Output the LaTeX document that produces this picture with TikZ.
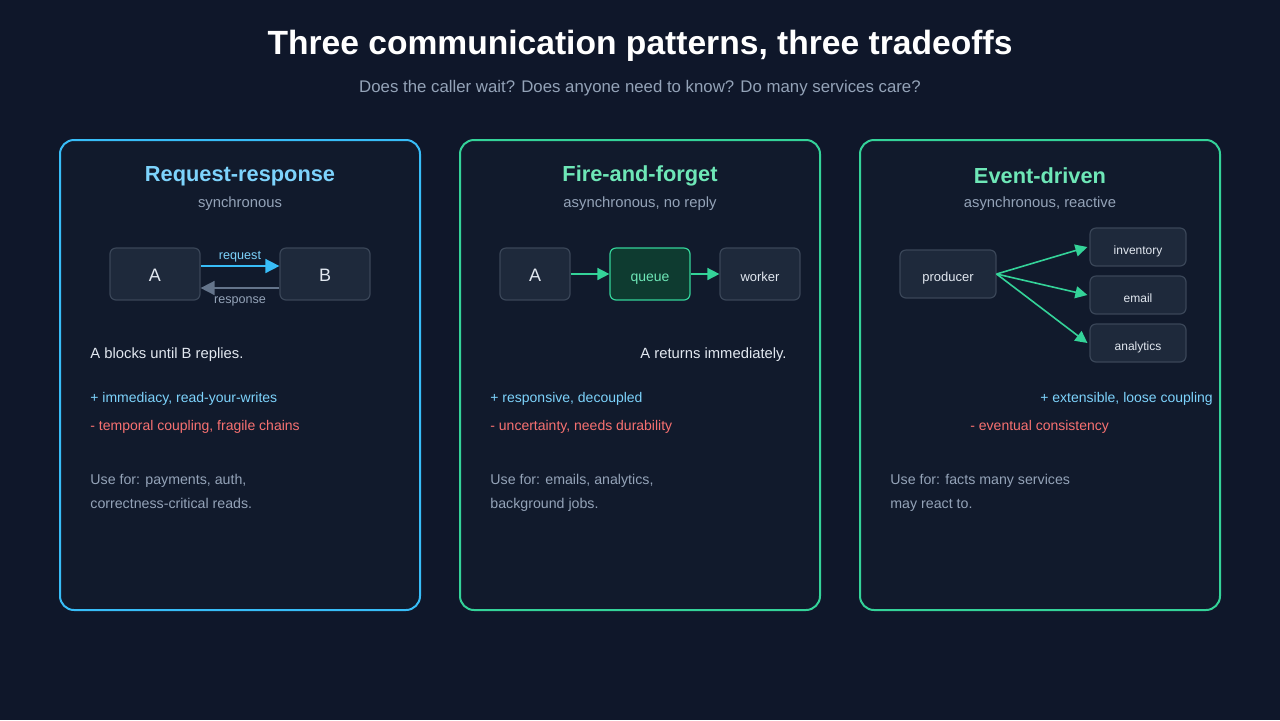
\documentclass[tikz,border=0pt]{standalone}
\usepackage{fontspec}
\setmainfont{Liberation Sans}
\usetikzlibrary{arrows.meta}
\definecolor{bgc}{HTML}{0F172A}
\definecolor{panelc}{HTML}{111A2C}
\definecolor{boxc}{HTML}{1E293B}
\definecolor{edgec}{HTML}{3A4658}
\definecolor{bluec}{HTML}{38BDF8}
\definecolor{lbluec}{HTML}{7DD3FC}
\definecolor{greenc}{HTML}{34D399}
\definecolor{lgreenc}{HTML}{6EE7B7}
\definecolor{qfillc}{HTML}{0E3B30}
\definecolor{grayc}{HTML}{94A3B8}
\definecolor{whitec}{HTML}{E2E8F0}
\definecolor{redc}{HTML}{F87171}
\definecolor{arrgc}{HTML}{64748B}
\tikzset{
  panel/.style={draw, line width=1pt, fill=panelc, rounded corners=7pt},
  box/.style={draw=edgec, fill=boxc, line width=0.6pt, rounded corners=3pt, text=whitec, inner sep=0pt, text height=0.7em, text depth=0pt},
  ptitle/.style={font=\fontsize{10.9}{13}\selectfont\bfseries},
  psub/.style={text=grayc, font=\fontsize{7.4}{9}\selectfont},
  body/.style={text=whitec, font=\fontsize{7.4}{9}\selectfont, inner sep=0pt},
  note/.style={text=grayc, font=\fontsize{7.1}{12}\selectfont, align=left, anchor=north west, inner sep=0pt},
  pro/.style={text=lbluec, font=\fontsize{7}{9}\selectfont, inner sep=0pt},
  con/.style={text=redc, font=\fontsize{7}{9}\selectfont, inner sep=0pt},
  arr/.style={-{Triangle[length=6pt,width=6pt]}, line width=0.8pt, color=greenc},
}
\begin{document}
\begin{tikzpicture}[x=0.5pt,y=-0.5pt]
\fill[bgc] (0,0) rectangle (1280,720);
\useasboundingbox (0,0) rectangle (1280,720);

% heading
\node[text=white, font=\fontsize{16.8}{20}\selectfont\bfseries] (title) at (640,46) {Three communication patterns, three tradeoffs};
\node[text=grayc, font=\fontsize{8.4}{10}\selectfont] (subtitle) at (640,88) {Does the caller wait? Does anyone need to know? Do many services care?};

% panels
\draw[panel, draw=bluec] (60,140) rectangle (420,610);
\draw[panel, draw=greenc] (460,140) rectangle (820,610);
\draw[panel, draw=greenc] (860,140) rectangle (1220,610);

% request-response
\node[ptitle, text=lbluec] (t1) at (240,176) {Request-response};
\node[psub] (s1) at (240,204) {synchronous};
\node[box, minimum width=45pt, minimum height=26pt, font=\fontsize{9}{10}\selectfont] (a1) at (155,274) {A};
\node[box, minimum width=45pt, minimum height=26pt, font=\fontsize{9}{10}\selectfont] (b1) at (325,274) {B};
\draw[-{Triangle[length=7pt,width=7pt]}, line width=0.8pt, bluec] ([yshift=4pt]a1.east) -- ([yshift=4pt]b1.west) node[midway, above, text=lbluec, font=\fontsize{6.3}{7}\selectfont, inner sep=1.5pt] {request};
\draw[-{Triangle[length=7pt,width=7pt]}, line width=0.8pt, arrgc] ([yshift=-7pt]b1.west) -- ([yshift=-7pt]a1.east) node[midway, below, text=grayc, font=\fontsize{6.3}{7}\selectfont, inner sep=4pt] {response};
\node[body, anchor=west] (d1) at (90,355) {A blocks until B replies.};
\node[pro, anchor=west] (p1) at (90,399) {+ immediacy, read-your-writes};
\node[con, anchor=west] (c1) at (90,427) {- temporal coupling, fragile chains};
\node[note] (u1) at (90,474) {Use for: payments, auth,\\correctness-critical reads.};

% fire-and-forget
\node[ptitle, text=lgreenc] (t2) at (640,176) {Fire-and-forget};
\node[psub] (s2) at (640,204) {asynchronous, no reply};
\node[box, minimum width=35pt, minimum height=26pt, font=\fontsize{9}{10}\selectfont] (a2) at (535,274) {A};
\node[box, draw=greenc, fill=qfillc, text=lgreenc, minimum width=40pt, minimum height=26pt, font=\fontsize{7}{8}\selectfont] (q2) at (650,274) {queue};
\node[box, minimum width=40pt, minimum height=26pt, font=\fontsize{6.5}{8}\selectfont] (w2) at (760,274) {worker};
\draw[arr] (a2) -- (q2);
\draw[arr] (q2) -- (w2);
\node[body, anchor=east] (d2) at (787,355) {A returns immediately.};
\node[pro, anchor=west] (p2) at (490,399) {+ responsive, decoupled};
\node[con, anchor=west] (c2) at (490,427) {- uncertainty, needs durability};
\node[note] (u2) at (490,474) {Use for: emails, analytics,\\background jobs.};

% event-driven
\node[ptitle, text=lgreenc] (t3) at (1040,176) {Event-driven};
\node[psub] (s3) at (1040,204) {asynchronous, reactive};
\node[box, minimum width=48pt, minimum height=24pt, font=\fontsize{6.5}{8}\selectfont] (pr) at (948,274) {producer};
\node[box, minimum width=48pt, minimum height=19pt, font=\fontsize{6}{8}\selectfont] (inv) at (1138,247) {inventory};
\node[box, minimum width=48pt, minimum height=19pt, font=\fontsize{6}{8}\selectfont] (em) at (1138,295) {email};
\node[box, minimum width=48pt, minimum height=19pt, font=\fontsize{6}{8}\selectfont] (an) at (1138,343) {analytics};
\foreach \t in {inv,em,an}
  \draw[arr] (pr.east) -- ([xshift=-1pt]\t.west);
\node[pro, anchor=west] (p3) at (1040,399) {+ extensible, loose coupling};
\node[con, anchor=west] (c3) at (970,427) {- eventual consistency};
\node[note] (u3) at (890,474) {Use for: facts many services\\may react to.};
\end{tikzpicture}
\end{document}
